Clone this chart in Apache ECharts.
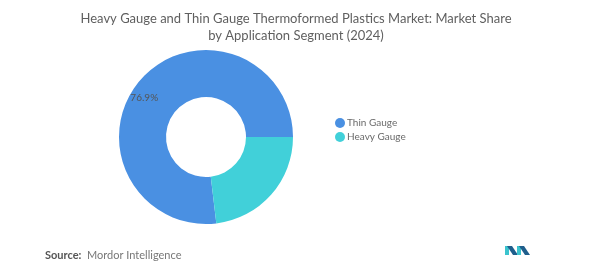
<!DOCTYPE html>
<html><head><meta charset="utf-8">
<script src="https://cdn.jsdelivr.net/npm/echarts@6/dist/echarts.min.js"></script>
<style>html,body{margin:0;padding:0;background:#fff}#c{width:592px;height:277px}</style>
</head><body><div id="c"></div>
<script>
const categories = ["Thin Gauge", "Heavy Gauge"];
const values = [76.9, 23.1];
const colors = ["#4A90E2", "#41D0D9"];
const chart = echarts.init(document.getElementById('c'));
chart.setOption({
  animation: false,
  title: {
    text: "Heavy Gauge and Thin Gauge Thermoformed Plastics Market: Market Share\nby Application Segment (2024)",
    left: 'center', top: 5,
    textStyle: {fontFamily: 'Lato', fontSize: 13, fontWeight: 'normal', color: '#5f5f5f', lineHeight: 17}
  },
  legend: {
    orient: 'vertical', left: 330, top: 113, itemWidth: 10, itemHeight: 10, itemGap: 4, icon: 'circle',
    textStyle: {fontFamily: 'Lato', fontSize: 10, color: '#6a6a6a', padding: [0,0,0,-3]},
    data: categories
  },
  series: [{
    type: 'pie', center: [206, 137], radius: [40, 87], startAngle: 0, clockwise: false,
    color: colors, silent: true,
    label: {show: true, position: 'inside', formatter: p => p.dataIndex === 0 ? p.value + '%' : '',
      fontFamily: 'Lato', fontSize: 10, color: '#555', offset: [-12, 5]},
    labelLine: {show: false},
    data: categories.map((n, i) => ({name: n, value: values[i]}))
  }],
  graphic: [
    {type: 'text', left: 45, top: 250, style: {text: 'Source:', fontFamily: 'Lato', fontSize: 11, fontWeight: 'bold', fill: '#555'}},
    {type: 'text', left: 87, top: 250, style: {text: 'Mordor Intelligence', fontFamily: 'Lato', fontSize: 11, fill: '#777'}},
    {type: 'polygon', shape: {points: [[505,246],[509,246],[509,255],[505,255]]}, style: {fill: '#3BC4CE'}},
    {type: 'polygon', shape: {points: [[507,246],[512,246],[518,255],[513,255]]}, style: {fill: '#1F5E8C'}},
    {type: 'polygon', shape: {points: [[517,246],[521,246],[521,255],[517,255]]}, style: {fill: '#3BC4CE'}},
    {type: 'polygon', shape: {points: [[519,246],[524,246],[530,255],[525,255]]}, style: {fill: '#1F5E8C'}}
  ]
});
</script></body></html>
